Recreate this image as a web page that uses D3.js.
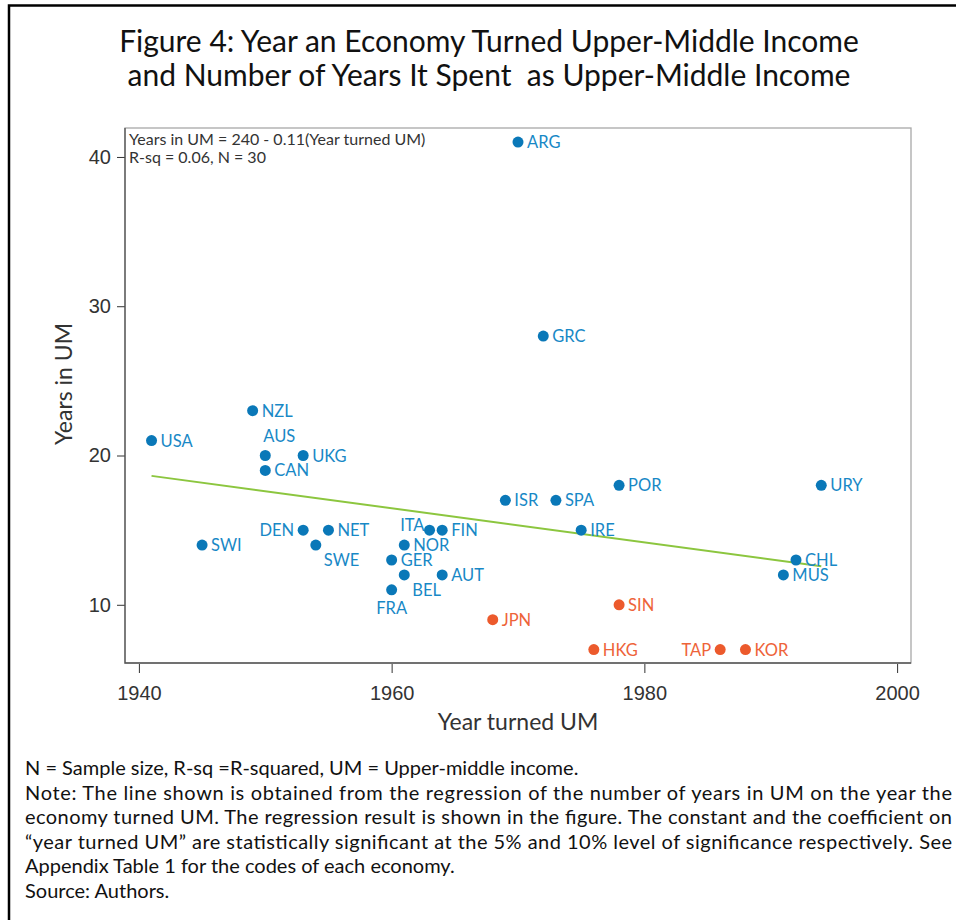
<!DOCTYPE html>
<html>
<head>
<meta charset="utf-8">
<script src="https://cdn.jsdelivr.net/npm/d3@7"></script>
<style>
  body { margin: 0; background: #fff; }
  svg { display: block; font-family: Lato, "Open Sans", sans-serif; }
  .tick text { fill: #333; }
</style>
</head>
<body>
<svg id="chart" width="956" height="920"></svg>
<script>
// economies: code, year turned UM, years spent in UM, label position (clock), group
var codes = ["USA","SWI","NZL","AUS","CAN","UKG","DEN","NET","SWE","GER","FRA","NOR","BEL","ITA","FIN","AUT",
             "JPN","ISR","ARG","GRC","SPA","IRE","HKG","POR","SIN","TAP","KOR","MUS","CHL","URY"];
var yearTurned = [1941,1945,1949,1950,1950,1953,1953,1955,1954,1960,1960,1961,1961,1963,1964,1964,
                  1968,1969,1970,1972,1973,1975,1976,1978,1978,1986,1988,1991,1992,1994];
var yearsInUM = [21,14,23,20,19,20,15,15,14,13,11,14,12,15,15,12,
                 9,17,41,28,17,15,7,18,10,7,7,12,13,18];
var labelPos = [3,3,3,1,3,3,9,3,4,3,6,3,4,11,3,3,
                3,3,3,3,3,3,3,3,3,9,3,3,3,3];
var asian = ["JPN","HKG","SIN","TAP","KOR"];

var xTicks = [1940, 1960, 1980, 2000];
var yTicks = [10, 20, 30, 40];

var titleLines = ["Figure 4: Year an Economy Turned Upper-Middle Income",
                  "and Number of Years It Spent  as Upper-Middle Income"];
var fitText = ["Years in UM = 240 - 0.11(Year turned UM)", "R-sq = 0.06, N = 30"];
var notes = [
  {t: "N = Sample size, R-sq =R-squared, UM = Upper-middle income.", justify: false},
  {t: "Note: The line shown is obtained from the regression of the number of years in UM on the year the", justify: true},
  {t: "economy turned UM. The regression result is shown in the figure. The constant and the coefficient on", justify: true},
  {t: "\u201Cyear turned UM\u201D are statistically significant at the 5% and 10% level of significance respectively. See", justify: true},
  {t: "Appendix Table 1 for the codes of each economy.", justify: false},
  {t: "Source: Authors.", justify: false}
];

var data = codes.map(function(c, i) {
  return {code: c, x: yearTurned[i], y: yearsInUM[i], pos: labelPos[i], asian: asian.indexOf(c) >= 0};
});

var svg = d3.select("#chart");

// outer frame (top and left edges)
svg.append("path")
    .attr("d", "M9,920V5.5H956")
    .attr("fill", "none")
    .attr("stroke", "#000")
    .attr("stroke-width", 2.5);

svg.append("g").selectAll("text")
  .data(titleLines)
  .enter().append("text")
    .attr("x", 489)
    .attr("y", function(d, i) { return 52 + i * 34; })
    .attr("text-anchor", "middle")
    .attr("font-size", 30)
    .attr("fill", "#111")
    .style("white-space", "pre")
    .text(function(d) { return d; });

var plot = {left: 125, right: 911, top: 128, bottom: 663};

var x = d3.scaleLinear().domain([1938.9, 2001.1]).range([plot.left, plot.right]);
var y = d3.scaleLinear().domain([6.1, 41.94]).range([plot.bottom, plot.top]);

// plot region border
svg.append("rect")
    .attr("x", plot.left)
    .attr("y", plot.top)
    .attr("width", plot.right - plot.left)
    .attr("height", plot.bottom - plot.top)
    .attr("fill", "none")
    .attr("stroke", "#a8a8a8")
    .attr("stroke-width", 1.3);

var xAxis = svg.append("g")
    .attr("transform", "translate(0," + (plot.bottom + 1) + ")")
    .call(d3.axisBottom(x).tickValues(xTicks).tickFormat(d3.format("d")).tickSizeOuter(0).tickSize(9).tickPadding(13));
xAxis.select(".domain").remove();
xAxis.selectAll("line").attr("stroke", "#333");
xAxis.selectAll("text").attr("font-size", 20).attr("fill", "#333");

var yAxis = svg.append("g")
    .attr("transform", "translate(" + plot.left + ",0)")
    .call(d3.axisLeft(y).tickValues(yTicks).tickSizeOuter(0).tickSize(8).tickPadding(6));
yAxis.select(".domain").remove();
yAxis.selectAll("line").attr("stroke", "#333");
yAxis.selectAll("text").attr("font-size", 20).attr("fill", "#333");

// darker left and bottom edges
svg.append("path")
    .attr("d", "M" + plot.left + "," + plot.top + "V" + plot.bottom + "H" + plot.right)
    .attr("fill", "none")
    .attr("stroke", "#555")
    .attr("stroke-width", 1.3);

svg.append("text")
    .attr("x", (plot.left + plot.right) / 2)
    .attr("y", 730)
    .attr("text-anchor", "middle")
    .attr("font-size", 23)
    .attr("fill", "#333")
    .text("Year turned UM");

svg.append("text")
    .attr("transform", "translate(72,384)rotate(-90)")
    .attr("text-anchor", "middle")
    .attr("font-size", 23)
    .attr("fill", "#333")
    .text("Years in UM");

// regression line (OLS fit of the plotted points)
var mx = d3.mean(data, function(d) { return d.x; }),
    my = d3.mean(data, function(d) { return d.y; });
var slope = d3.sum(data, function(d) { return (d.x - mx) * (d.y - my); }) /
            d3.sum(data, function(d) { return (d.x - mx) * (d.x - mx); });
var xExt = d3.extent(data, function(d) { return d.x; });
var fit = xExt.map(function(v) { return [v, my + slope * (v - mx)]; });

svg.append("path")
    .datum(fit)
    .attr("d", d3.line().x(function(d) { return x(d[0]); }).y(function(d) { return y(d[1]); }))
    .attr("fill", "none")
    .attr("stroke", "#8cc63f")
    .attr("stroke-width", 2);

var pts = svg.append("g").selectAll("g")
  .data(data)
  .enter().append("g")
    .attr("transform", function(d) { return "translate(" + x(d.x) + "," + y(d.y) + ")"; });

pts.append("circle")
    .attr("r", 5.5)
    .attr("fill", function(d) { return d.asian ? "#ec5a2c" : "#0a78b8"; });

var offsets = {
  3: [9, 0, "start", 6],
  9: [-9, 0, "end", 6],
  1: [-2, -14, "start", 0],
  4: [8, 15, "start", 6],
  6: [0, 18, "middle", 6],
  11: [-5, -5, "end", 6]
};

pts.append("text")
    .attr("x", function(d) { return offsets[d.pos][0]; })
    .attr("y", function(d) { return offsets[d.pos][1] + offsets[d.pos][3]; })
    .attr("text-anchor", function(d) { return offsets[d.pos][2]; })
    .attr("font-size", 16.5)
    .attr("fill", function(d) { return d.asian ? "#ee6339" : "#1888c6"; })
    .text(function(d) { return d.code; });

svg.append("g").selectAll("text")
  .data(fitText)
  .enter().append("text")
    .attr("x", 129)
    .attr("y", function(d, i) { return 145 + i * 18; })
    .attr("font-size", 16)
    .attr("fill", "#333")
    .text(function(d) { return d; });

svg.append("g").selectAll("text")
  .data(notes)
  .enter().append("text")
    .attr("x", 25)
    .attr("y", function(d, i) { return 775 + i * 24.6; })
    .attr("font-size", 20)
    .attr("fill", "#111")
    .each(function(d) {
      if (d.justify) d3.select(this).attr("textLength", 927).attr("lengthAdjust", "spacing");
    })
    .text(function(d) { return d.t; });
</script>
</body>
</html>
